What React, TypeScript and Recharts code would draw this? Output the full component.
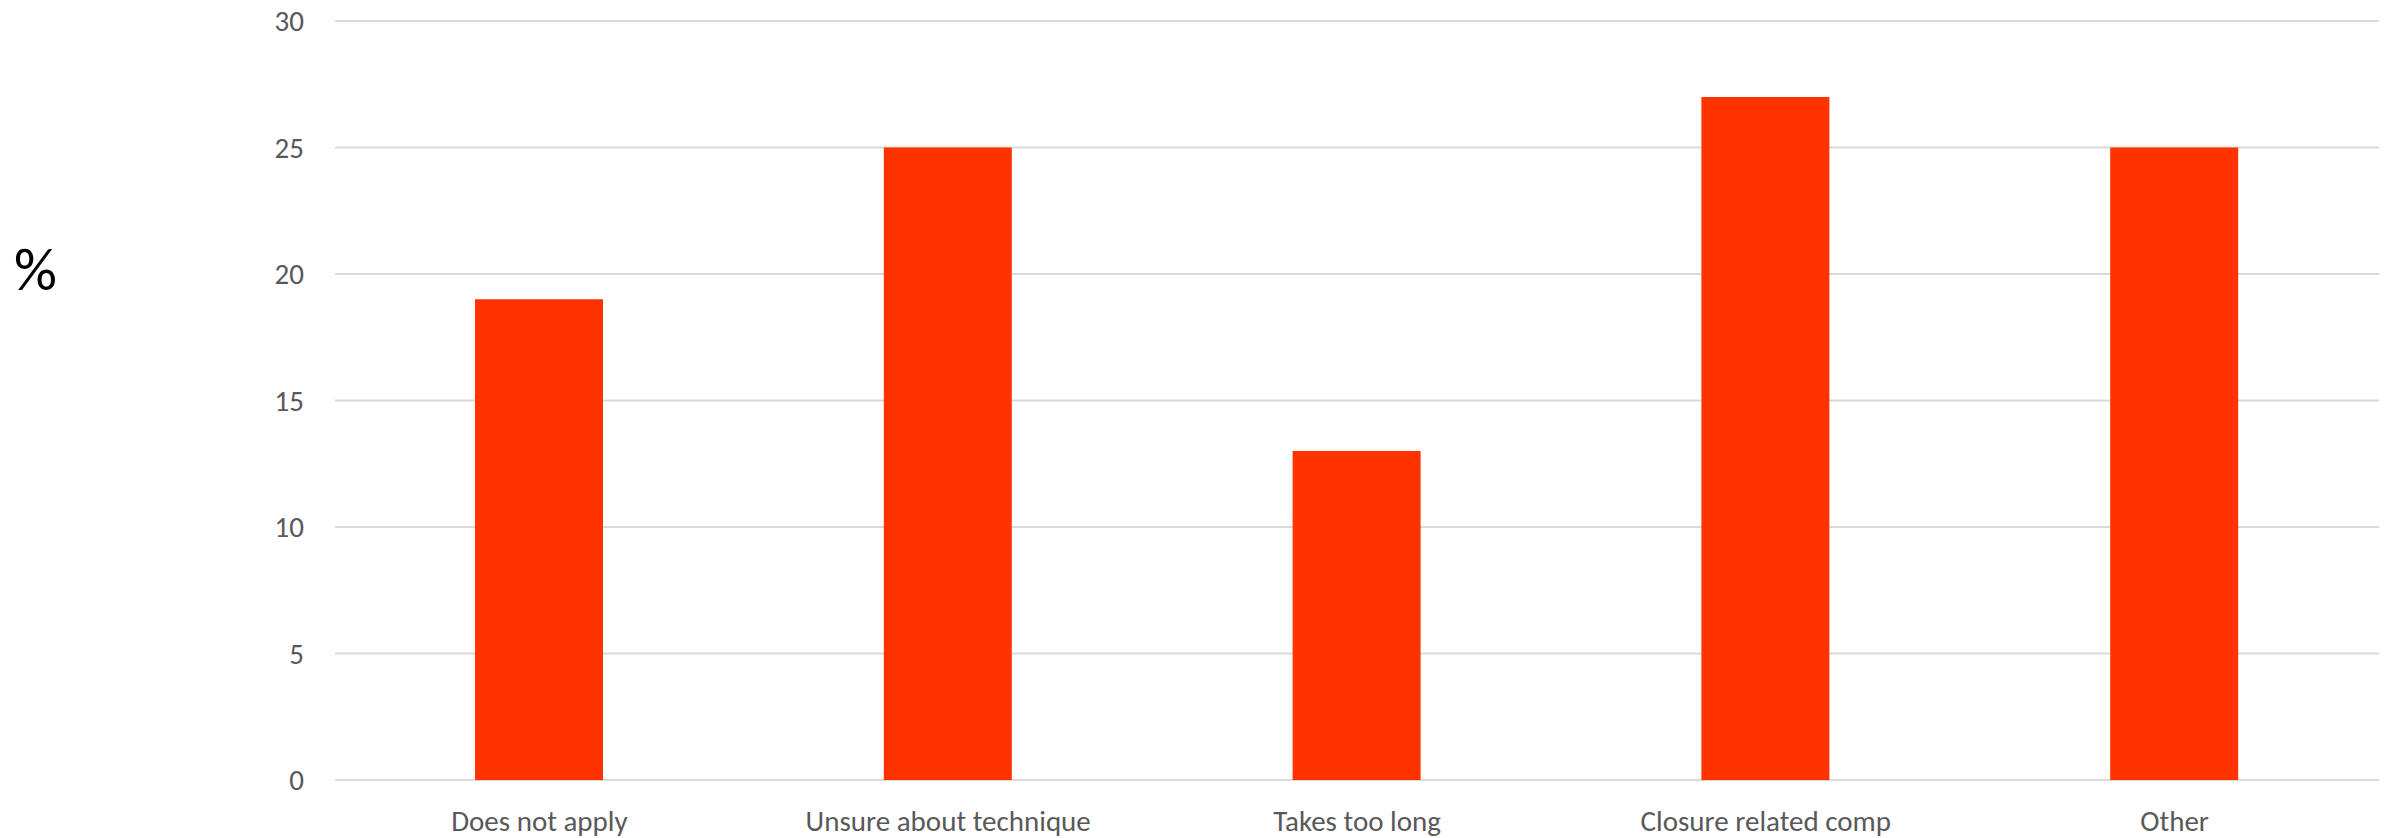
import { BarChart, Bar, XAxis, YAxis, CartesianGrid } from 'recharts';

// reasons given, share of respondents (%)
const reasons = ['Does not apply', 'Unsure about technique', 'Takes too long', 'Closure related comp', 'Other'];
const shares = [19, 25, 13, 27, 25];
const yTicks = [0, 5, 10, 15, 20, 25, 30];

const data = reasons.map((reason, i) => ({ reason, share: shares[i] }));

const FONT = 'Carlito, Lato, "Open Sans", sans-serif';
const TICK_COLOR = '#595959';

export default function App() {
  return (
    <div style={{ position: 'absolute', left: 0, top: 0, width: 2387, height: 838, background: '#fff' }}>
      <BarChart
        width={2387}
        height={838}
        data={data}
        margin={{ top: 21, right: 8, bottom: 28, left: 0 }}
      >
        <CartesianGrid vertical={false} stroke="#d9d9d9" strokeWidth={2} />
        <XAxis
          dataKey="reason"
          height={30}
          axisLine={false}
          tickLine={false}
          tickSize={0}
          tickMargin={30}
          interval={0}
          tick={{ fontSize: 29, fill: TICK_COLOR, fontFamily: FONT }}
        />
        <YAxis
          width={335}
          domain={[0, 30]}
          ticks={yTicks}
          axisLine={false}
          tickLine={false}
          tickSize={0}
          tickMargin={31}
          tick={{ fontSize: 29, fill: TICK_COLOR, fontFamily: FONT }}
          label={{
            value: '%',
            position: 'insideLeft',
            offset: 14,
            dy: -132,
            style: { fontSize: 60, fill: '#000', fontFamily: FONT },
          }}
        />
        <Bar dataKey="share" fill="#ff3300" barSize={128} isAnimationActive={false} />
      </BarChart>
    </div>
  );
}
